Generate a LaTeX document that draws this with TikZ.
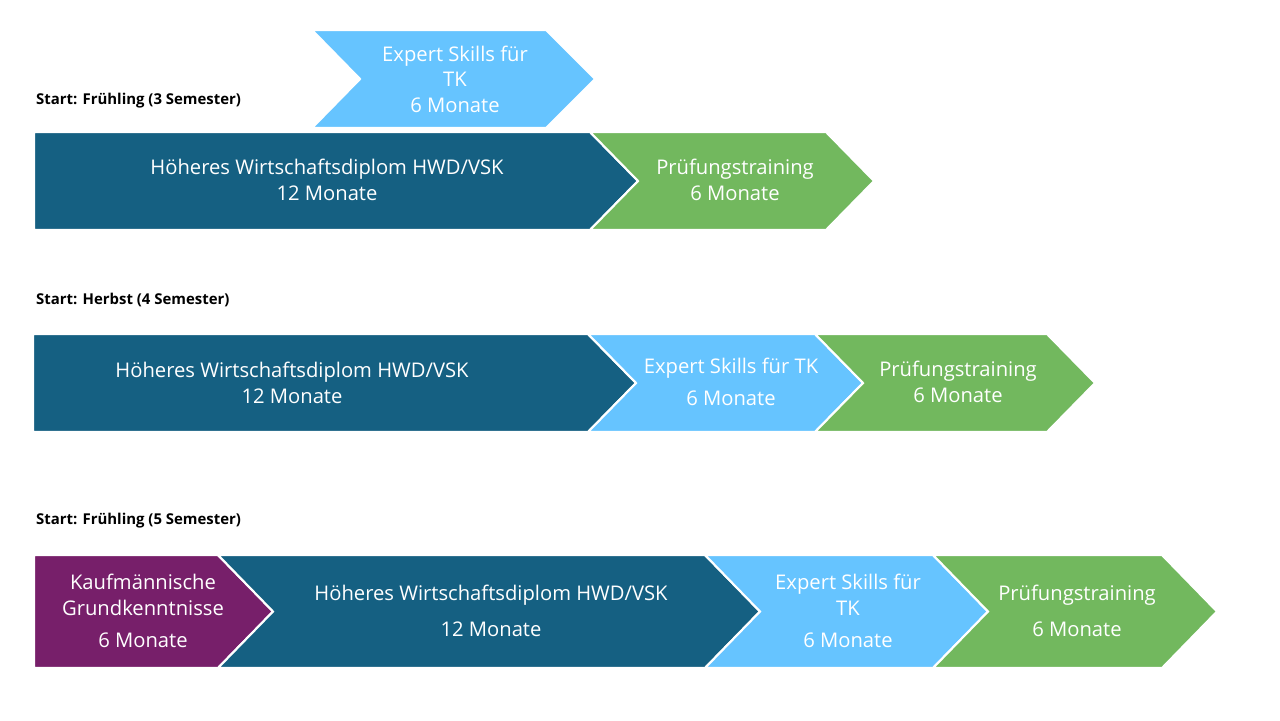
\documentclass[tikz,border=0pt]{standalone}
\usepackage{fontspec}
\setmainfont{Open Sans}
\definecolor{hwdblue}{HTML}{156082}
\definecolor{skillblue}{HTML}{66C4FF}
\definecolor{pruefgreen}{HTML}{72B85E}
\definecolor{kaufpurple}{HTML}{771F6A}
\tikzset{
  chev/.style={draw=white, line width=1.2pt},
  lbl/.style={text=white, align=center, font=\fontsize{11.5}{14.5}\selectfont},
  hdr/.style={anchor=west, font=\fontsize{8.5}{10}\selectfont\bfseries}
}
% #1 left, #2 shoulder, #3 tip, #4 top, #5 bottom, #6 notch depth, #7 colour
\newcommand{\chevron}[7]{%
  \fill[chev, fill=#7] (#1,#4) -- (#2,#4) -- (#3,{(#4+#5)/2}) -- (#2,#5)
    -- (#1,#5) -- ({#1+#6},{(#4+#5)/2}) -- cycle;}
\begin{document}
\begin{tikzpicture}[x=0.02cm, y=-0.02cm]
\useasboundingbox (0,0) rectangle (1280,720);
% row 1
\node[hdr] (h1) at (30,101) {Start: Frühling (3 Semester)};
\chevron{312}{546}{595}{30}{128}{48}{skillblue}
\chevron{34}{590}{638}{132}{230}{0}{hwdblue}
\chevron{590}{826}{874}{132}{230}{48}{pruefgreen}
\node[lbl] (e1) at (455,79) {Expert Skills für\\TK\\6 Monate};
\node[lbl] (w1) at (327,180) {Höheres Wirtschaftsdiplom HWD/VSK\\12 Monate};
\node[lbl] (p1) at (735,180) {Prüfungstraining\\6 Monate};
% row 2
\node[hdr] (h2) at (30,300) {Start: Herbst (4 Semester)};
\chevron{33}{588}{636}{334}{432}{0}{hwdblue}
\chevron{588}{815}{863}{334}{432}{48}{skillblue}
\chevron{815}{1047}{1095}{334}{432}{48}{pruefgreen}
\node[lbl] (w2) at (292,383) {Höheres Wirtschaftsdiplom HWD/VSK\\12 Monate};
\node[lbl] (e2) at (731,382) {Expert Skills für TK\\[4pt]6 Monate};
\node[lbl] (p2) at (958,382) {Prüfungstraining\\6 Monate};
% row 3
\node[hdr] (h3) at (30,521) {Start: Frühling (5 Semester)};
\chevron{34}{218}{273}{555}{668}{0}{kaufpurple}
\chevron{218}{705}{760}{555}{668}{55}{hwdblue}
\chevron{705}{933}{988}{555}{668}{55}{skillblue}
\chevron{933}{1162}{1217}{555}{668}{55}{pruefgreen}
\node[lbl] (k3) at (143,611) {Kaufmännische\\Grundkenntnisse\\[4pt]6 Monate};
\node[lbl] (w3) at (491,611) {Höheres Wirtschaftsdiplom HWD/VSK\\[6pt]12 Monate};
\node[lbl] (e3) at (848,611) {Expert Skills für\\TK\\[4pt]6 Monate};
\node[lbl] (p3) at (1077,611) {Prüfungstraining\\[6pt]6 Monate};
\end{tikzpicture}
\end{document}
